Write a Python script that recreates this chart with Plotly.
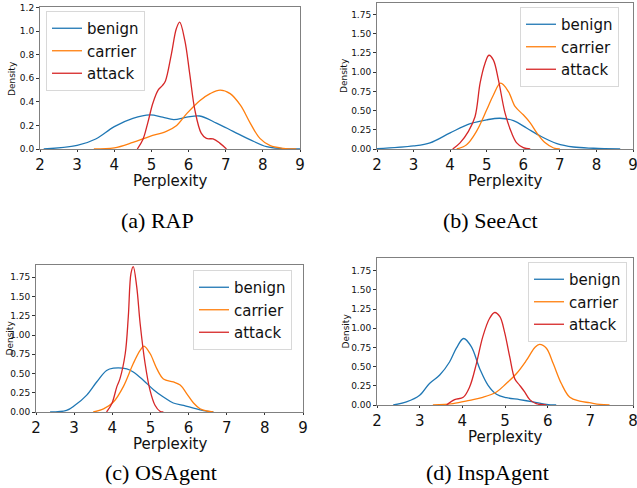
import plotly.graph_objects as go

W, H = 637, 488

# ---------------- data ----------------
series_names = ["benign", "carrier", "attack"]
series_colors = ["#1f77b4", "#ff7f0e", "#d62728"]
captions = ["(a) RAP", "(b) SeeAct", "(c) OSAgent", "(d) InspAgent"]
x_title = "Perplexity"
y_title = "Density"

# (a) RAP
rap_benign_x = [2.1, 3.0, 3.5, 4.0, 4.5, 4.96, 5.3, 5.6, 5.95, 6.3, 6.75, 7.2, 7.65, 8.1, 8.55, 9.0]
rap_benign_y = [0, 0.03, 0.085, 0.19, 0.26, 0.289, 0.27, 0.25, 0.27, 0.28, 0.22, 0.15, 0.08, 0.02, 0.003, 0]
rap_carrier_x = [3.45, 4.0, 4.5, 4.96, 5.4, 5.68, 5.95, 6.3, 6.58, 6.85, 7.12, 7.4, 7.66, 7.92, 8.2, 8.55, 8.9]
rap_carrier_y = [0, 0.01, 0.056, 0.107, 0.15, 0.2, 0.3, 0.41, 0.47, 0.5, 0.47, 0.37, 0.22, 0.09, 0.028, 0.006, 0]
rap_attack_x = [4.62, 4.77, 4.9, 5.04, 5.18, 5.3, 5.38, 5.54, 5.67, 5.76, 5.9, 6.03, 6.17, 6.34, 6.48, 6.66, 6.84, 7.02]
rap_attack_y = [0, 0.08, 0.22, 0.39, 0.5, 0.54, 0.58, 0.81, 1.02, 1.076, 0.92, 0.64, 0.33, 0.135, 0.09, 0.085, 0.05, 0]

# (b) SeeAct
seeact_benign_x = [2.0, 3.0, 3.45, 4.0, 4.55, 5.0, 5.36, 5.73, 6.1, 6.46, 6.92, 7.37, 7.92, 8.65]
seeact_benign_y = [0.004, 0.04, 0.08, 0.21, 0.33, 0.38, 0.40, 0.37, 0.27, 0.17, 0.07, 0.026, 0.01, 0]
seeact_carrier_x = [4.18, 4.45, 4.72, 5.0, 5.18, 5.38, 5.59, 5.78, 6.0, 6.19, 6.37, 6.6, 6.83, 7.0]
seeact_carrier_y = [0, 0.056, 0.23, 0.51, 0.7, 0.856, 0.75, 0.55, 0.445, 0.34, 0.21, 0.08, 0.013, 0]
seeact_attack_x = [4.07, 4.27, 4.5, 4.68, 4.82, 4.95, 5.06, 5.18, 5.32, 5.5, 5.68, 5.82, 6.0, 6.19]
seeact_attack_y = [0, 0.08, 0.23, 0.42, 0.86, 1.11, 1.22, 1.16, 0.9, 0.47, 0.21, 0.08, 0.017, 0]

# (c) OSAgent
osagent_benign_x = [2.37, 2.8, 3.02, 3.33, 3.59, 3.85, 4.03, 4.38, 4.55, 4.82, 5.08, 5.34, 5.6, 5.87, 6.13, 6.39, 6.65]
osagent_benign_y = [0, 0.02, 0.087, 0.22, 0.39, 0.54, 0.57, 0.56, 0.52, 0.41, 0.29, 0.195, 0.117, 0.087, 0.05, 0.017, 0]
osagent_carrier_x = [3.5, 3.77, 4.03, 4.29, 4.55, 4.73, 4.83, 4.99, 5.17, 5.34, 5.6, 5.78, 5.95, 6.13, 6.3, 6.48, 6.65]
osagent_carrier_y = [0, 0.04, 0.13, 0.33, 0.63, 0.8, 0.855, 0.76, 0.56, 0.43, 0.39, 0.35, 0.24, 0.117, 0.043, 0.013, 0]
osagent_attack_x = [3.85, 3.99, 4.12, 4.2, 4.34, 4.42, 4.49, 4.55, 4.64, 4.73, 4.86, 4.99, 5.12, 5.25, 5.34]
osagent_attack_y = [0, 0.11, 0.33, 0.43, 0.76, 1.24, 1.8, 1.89, 1.63, 1.15, 0.63, 0.28, 0.087, 0.009, 0]

# (d) InspAgent
insp_benign_x = [2.38, 2.69, 3.0, 3.23, 3.47, 3.7, 3.86, 4.03, 4.21, 4.41, 4.6, 4.8, 5.03, 5.34, 5.66, 5.97, 6.2]
insp_benign_y = [0, 0.04, 0.126, 0.28, 0.39, 0.56, 0.74, 0.866, 0.76, 0.47, 0.26, 0.14, 0.096, 0.07, 0.04, 0.009, 0]
insp_carrier_x = [3.31, 3.78, 4.17, 4.48, 4.8, 5.03, 5.27, 5.5, 5.7, 5.81, 5.97, 6.13, 6.32, 6.52, 6.75, 6.98, 7.22, 7.45]
insp_carrier_y = [0, 0.017, 0.06, 0.1, 0.17, 0.28, 0.41, 0.58, 0.75, 0.79, 0.74, 0.54, 0.28, 0.1, 0.05, 0.03, 0.009, 0]
insp_attack_x = [3.63, 3.82, 4.02, 4.17, 4.33, 4.48, 4.64, 4.76, 4.88, 4.99, 5.11, 5.23, 5.34, 5.46, 5.58, 5.73, 5.97]
insp_attack_y = [0, 0.07, 0.10, 0.235, 0.54, 0.89, 1.13, 1.205, 1.15, 0.95, 0.63, 0.34, 0.26, 0.17, 0.07, 0.017, 0]

x_ticks_a = [2, 3, 4, 5, 6, 7, 8, 9]
x_ticks_d = [2, 3, 4, 5, 6, 7, 8]
y_ticks_a = [0.0, 0.2, 0.4, 0.6, 0.8, 1.0, 1.2]
y_ticks_b = [0.0, 0.25, 0.5, 0.75, 1.0, 1.25, 1.5, 1.75]

panels_data = [
    [(rap_benign_x, rap_benign_y), (rap_carrier_x, rap_carrier_y), (rap_attack_x, rap_attack_y)],
    [(seeact_benign_x, seeact_benign_y), (seeact_carrier_x, seeact_carrier_y), (seeact_attack_x, seeact_attack_y)],
    [(osagent_benign_x, osagent_benign_y), (osagent_carrier_x, osagent_carrier_y), (osagent_attack_x, osagent_attack_y)],
    [(insp_benign_x, insp_benign_y), (insp_carrier_x, insp_carrier_y), (insp_attack_x, insp_attack_y)],
]

# ---------------- layout (pixel boxes) ----------------
# (left, right, top, bottom) in pixels
boxes = [(40, 300, 7, 149), (377, 633, 3, 149), (36, 303, 265, 412), (377, 633, 258, 405)]
x_ranges = [[2, 9], [2, 9], [2, 9], [2, 8]]
y_ranges = [[0, 1.205], [0, 1.9], [0, 1.91], [0, 1.915]]
x_tickvals = [x_ticks_a, x_ticks_a, x_ticks_a, x_ticks_d]
y_tickvals = [y_ticks_a, y_ticks_b, y_ticks_b, y_ticks_b]
y_fmt = [".1f", ".2f", ".2f", ".2f"]
legend_pos = [(46, 11), (520, 7), (193, 270), (528, 262)]
caption_pos = [(157, 221), (490, 221), (161, 472), (487, 472)]
ytitle_x = [12, 344, 9, 345]

fig = go.Figure()
FONT = "DejaVu Sans"
AX = "#808080"

for i in range(4):
    xa = "x" if i == 0 else f"x{i+1}"
    ya = "y" if i == 0 else f"y{i+1}"
    lg = "legend" if i == 0 else f"legend{i+1}"
    for j, (xs, ys) in enumerate(panels_data[i]):
        fig.add_trace(go.Scatter(
            x=xs, y=ys, mode="lines", name=series_names[j],
            line=dict(color=series_colors[j], width=1.3, shape="spline", smoothing=1.0),
            xaxis=xa, yaxis=ya, legend=lg, showlegend=True,
        ))
    l, r, t, b = boxes[i]
    xkey = "xaxis" if i == 0 else f"xaxis{i+1}"
    ykey = "yaxis" if i == 0 else f"yaxis{i+1}"
    fig.layout[xkey] = dict(
        domain=[l / W, r / W], range=x_ranges[i], anchor=ya, automargin=False,
        tickvals=x_tickvals[i], ticks="outside", ticklen=2, tickcolor="#333",
        ticklabeloverflow="allow",
        tickfont=dict(family=FONT, size=15, color="#111"),
        showline=True, mirror=True, linecolor=AX, linewidth=1,
        showgrid=False, zeroline=False,
    )
    fig.layout[ykey] = dict(
        domain=[1 - b / H, 1 - t / H], range=y_ranges[i], anchor=xa, automargin=False,
        tickvals=y_tickvals[i], tickformat=y_fmt[i], ticks="outside", ticklen=3, tickcolor="#333",
        ticklabeloverflow="allow",
        tickfont=dict(family=FONT, size=9, color="#111"),
        showline=True, mirror=True, linecolor=AX, linewidth=1,
        showgrid=False, zeroline=False,
    )
    # axis titles
    fig.add_annotation(
        x=(l + r) / 2 / W, y=1 - (b + 32) / H, xref="paper", yref="paper", text=x_title,
        showarrow=False, xanchor="center", yanchor="middle", borderpad=0,
        font=dict(family=FONT, size=15, color="#111"),
    )
    fig.add_annotation(
        x=ytitle_x[i] / W, y=1 - (t + b) / 2 / H, xref="paper", yref="paper", text=y_title,
        showarrow=False, xanchor="center", yanchor="middle", textangle=-90, borderpad=0,
        font=dict(family=FONT, size=9, color="#111"),
    )
    lx, ly = legend_pos[i]
    fig.layout[lg] = dict(
        x=lx / W, y=1 - ly / H, xanchor="left", yanchor="top", xref="paper", yref="paper",
        font=dict(family=FONT, size=15, color="#111"),
        bordercolor="#d8d8d8", borderwidth=1, bgcolor="rgba(255,255,255,0.8)",
        itemwidth=30, tracegroupgap=0,
    )
    cx, cy = caption_pos[i]
    fig.add_annotation(
        x=cx / W, y=1 - cy / H, xref="paper", yref="paper", text=captions[i],
        showarrow=False, xanchor="center", yanchor="middle",
        font=dict(family="Liberation Serif", size=22, color="#000"),
    )

fig.update_layout(
    width=W, height=H, margin=dict(l=0, r=0, t=0, b=0),
    paper_bgcolor="white", plot_bgcolor="white",
)

fig.write_html(
    "out.html",
    config={"displayModeBar": False, "responsive": False},
    post_script="document.body.style.margin='0';document.body.style.padding='0';document.body.style.overflow='hidden';",
)
